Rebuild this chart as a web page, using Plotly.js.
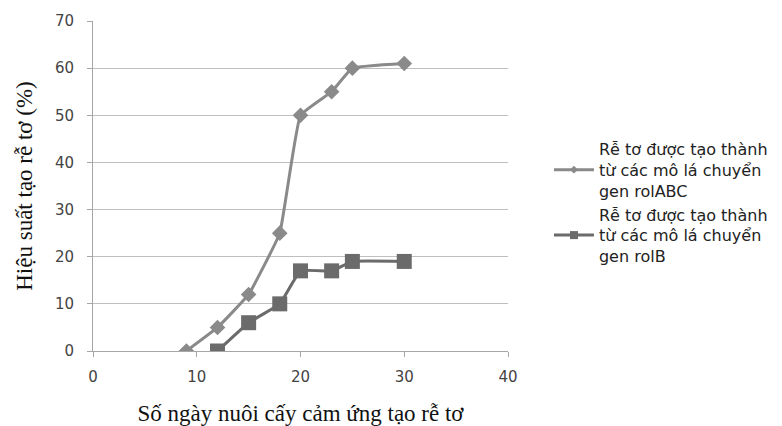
<!DOCTYPE html>
<html>
<head>
<meta charset="utf-8">
<script src="https://cdn.plot.ly/plotly-3.0.1.min.js"></script>
<style>html,body{margin:0;padding:0;background:#fff;}#chart{width:782px;height:426px;}</style>
</head>
<body>
<div id="chart"></div>
<script>
const daysABC = [9, 12, 15, 18, 20, 23, 25, 30];
const valuesABC = [0, 5, 12, 25, 50, 55, 60, 61];
const daysB = [12, 15, 18, 20, 23, 25, 30];
const valuesB = [0, 6, 10, 17, 17, 19, 19];
const seriesNames = [
  "Rễ tơ được tạo thành<br>từ các mô lá chuyển<br>gen rolABC",
  "Rễ tơ được tạo thành<br>từ các mô lá chuyển<br>gen rolB"
];
const xTicks = [0, 10, 20, 30, 40];
const yTicks = [0, 10, 20, 30, 40, 50, 60, 70];

const colorABC = "#8a8a8a";
const colorB = "#6b6b6b";

const traces = [
  {
    x: daysABC, y: valuesABC, name: seriesNames[0], mode: "lines+markers", showlegend: false,
    line: {color: colorABC, width: 3, shape: "spline", smoothing: 0.3},
    marker: {symbol: "diamond", size: 12, color: colorABC}
  },
  {
    x: daysB, y: valuesB, name: seriesNames[1], mode: "lines+markers", showlegend: false,
    line: {color: colorB, width: 3, shape: "spline", smoothing: 0.3},
    marker: {symbol: "square", size: 15, color: colorB}
  },
  // legend-only entries (no data drawn) with the small legend symbols
  {
    x: [null], y: [null], name: seriesNames[0], mode: "lines+markers",
    line: {color: colorABC, width: 3}, marker: {symbol: "diamond", size: 6, color: colorABC}
  },
  {
    x: [null], y: [null], name: seriesNames[1], mode: "lines+markers",
    line: {color: colorB, width: 3}, marker: {symbol: "square", size: 8, color: colorB}
  }
];

const layout = {
  width: 782, height: 426,
  margin: {l: 93, r: 274, t: 21, b: 75},
  paper_bgcolor: "#fff", plot_bgcolor: "#fff",
  showlegend: true,
  legend: {
    xref: "container", yref: "paper",
    x: 0.702, y: 0.45, xanchor: "left", yanchor: "middle",
    font: {family: "DejaVu Sans, Verdana, sans-serif", size: 16, color: "#222"},
    tracegroupgap: 0, itemwidth: 40
  },
  xaxis: {
    range: [0, 40], tickvals: xTicks, ticktext: xTicks.map(String),
    showgrid: false, zeroline: false,
    showline: true, linecolor: "#a6a6a6", linewidth: 1,
    ticks: "outside", ticklen: 5, tickcolor: "#a6a6a6", ticklabelstandoff: 7,
    tickfont: {family: "DejaVu Sans, Verdana, sans-serif", size: 15, color: "#444"},
    title: {text: "Số ngày nuôi cấy cảm ứng tạo rễ tơ", font: {family: "Liberation Serif, Times New Roman, serif", size: 23, color: "#111"}, standoff: 19}
  },
  yaxis: {
    range: [0, 70], tickvals: yTicks, ticktext: yTicks.map(String),
    showgrid: true, gridcolor: "#bfbfbf", gridwidth: 1, zeroline: false,
    showline: true, linecolor: "#a6a6a6", linewidth: 1,
    ticks: "outside", ticklen: 5, tickcolor: "#a6a6a6", ticklabelstandoff: 10,
    tickfont: {family: "DejaVu Sans, Verdana, sans-serif", size: 15, color: "#444"},
    title: {text: "Hiệu suất tạo rễ tơ (%)", font: {family: "Liberation Serif, Times New Roman, serif", size: 23, color: "#111"}, standoff: 15}
  }
};

Plotly.newPlot("chart", traces, layout, {displayModeBar: false, staticPlot: true});
</script>
</body>
</html>
